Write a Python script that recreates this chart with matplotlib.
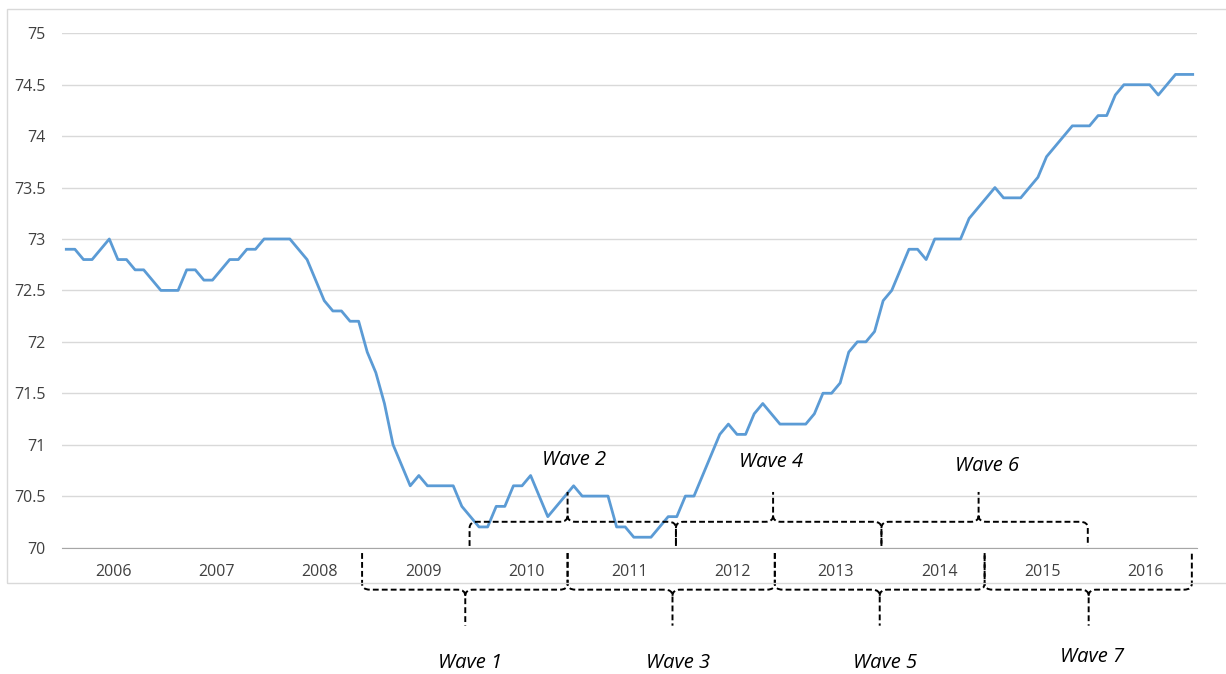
import matplotlib
matplotlib.use("Agg")
import matplotlib.pyplot as plt
from matplotlib.path import Path
from matplotlib.patches import PathPatch, Rectangle

# monthly values, Jan 2006 .. Dec 2016
values = [
    72.9, 72.9, 72.8, 72.8, 72.9, 73.0, 72.8, 72.8, 72.7, 72.7, 72.6, 72.5,  # 2006
    72.5, 72.5, 72.7, 72.7, 72.6, 72.6, 72.7, 72.8, 72.8, 72.9, 72.9, 73.0,  # 2007
    73.0, 73.0, 73.0, 72.9, 72.8, 72.6, 72.4, 72.3, 72.3, 72.2, 72.2, 71.9,  # 2008
    71.7, 71.4, 71.0, 70.8, 70.6, 70.7, 70.6, 70.6, 70.6, 70.6, 70.4, 70.3,  # 2009
    70.2, 70.2, 70.4, 70.4, 70.6, 70.6, 70.7, 70.5, 70.3, 70.4, 70.5, 70.6,  # 2010
    70.5, 70.5, 70.5, 70.5, 70.2, 70.2, 70.1, 70.1, 70.1, 70.2, 70.3, 70.3,  # 2011
    70.5, 70.5, 70.7, 70.9, 71.1, 71.2, 71.1, 71.1, 71.3, 71.4, 71.3, 71.2,  # 2012
    71.2, 71.2, 71.2, 71.3, 71.5, 71.5, 71.6, 71.9, 72.0, 72.0, 72.1, 72.4,  # 2013
    72.5, 72.7, 72.9, 72.9, 72.8, 73.0, 73.0, 73.0, 73.0, 73.2, 73.3, 73.4,  # 2014
    73.5, 73.4, 73.4, 73.4, 73.5, 73.6, 73.8, 73.9, 74.0, 74.1, 74.1, 74.1,  # 2015
    74.2, 74.2, 74.4, 74.5, 74.5, 74.5, 74.5, 74.4, 74.5, 74.6, 74.6, 74.6,  # 2016
]
years = [str(y) for y in range(2006, 2017)]
y_ticks = [70, 70.5, 71, 71.5, 72, 72.5, 73, 73.5, 74, 74.5, 75]
y_labels = ["70", "70.5", "71", "71.5", "72", "72.5", "73", "73.5", "74", "74.5", "75"]

# wave braces: (label, start month, end month, tip month, label x, label y)
waves_below = [("Wave 1", 34.4, 58.3, 46.4, 47.0, 68.876),
               ("Wave 3", 58.3, 82.4, 70.5, 71.1, 68.876),
               ("Wave 5", 82.4, 106.8, 94.6, 95.2, 68.876),
               ("Wave 7", 106.8, 130.9, 118.9, 119.3, 68.935)]
waves_above = [("Wave 2", 46.9, 70.9, 58.3, 59.0, 70.85),
               ("Wave 4", 70.9, 94.8, 82.2, 82.0, 70.83),
               ("Wave 6", 94.8, 118.8, 106.1, 107.1, 70.79)]

plt.rcParams['font.family'] = ['Open Sans', 'DejaVu Sans']

fig = plt.figure(figsize=(12.26, 6.74), dpi=100)
# chart area border (as in the spreadsheet chart)
fig.patches.append(Rectangle((7 / 1226, (674 - 583) / 674), 1.2, (583 - 9) / 674,
                             transform=fig.transFigure, fill=False,
                             edgecolor='#d9d9d9', lw=1))
ax = fig.add_axes([62 / 1226, (674 - 547.5) / 674, 1135 / 1226, 514.2 / 674])

x = list(range(len(values)))
ax.plot(x, values, color='#5B9BD5', lw=2, zorder=3)

ax.set_xlim(-0.5, len(values) - 0.5)
ax.set_ylim(70, 75)
ax.set_yticks(y_ticks)
ax.set_yticklabels(y_labels, fontsize=11.5, color='#404040')
ax.tick_params(axis='y', length=0, pad=12)
ax.set_xticks([])
ax.grid(axis='y', color='#d9d9d9', lw=1)
ax.set_axisbelow(True)
for s in ['top', 'right', 'left']:
    ax.spines[s].set_visible(False)
ax.spines['bottom'].set_color('#a6a6a6')
ax.spines['bottom'].set_zorder(4)

for i, yr in enumerate(years):
    ax.text(i * 12 + 5.5, 69.76, yr, ha='center', va='center',
            fontsize=11.5, color='#404040')


def brace(x0, x1, xm, y_end, y_bar, y_tip, rx=0.9, ry=0.06):
    s = 1 if y_tip > y_bar else -1
    verts = [(x0, y_end), (x0, y_bar - s * ry), (x0, y_bar), (x0 + rx, y_bar),
             (xm - rx, y_bar), (xm, y_bar), (xm, y_bar + s * ry), (xm, y_tip),
             (xm, y_bar + s * ry), (xm, y_bar), (xm + rx, y_bar),
             (x1 - rx, y_bar), (x1, y_bar), (x1, y_bar - s * ry), (x1, y_end)]
    codes = [Path.MOVETO, Path.LINETO, Path.CURVE3, Path.CURVE3,
             Path.LINETO, Path.CURVE3, Path.CURVE3, Path.LINETO,
             Path.MOVETO, Path.CURVE3, Path.CURVE3,
             Path.LINETO, Path.CURVE3, Path.CURVE3, Path.LINETO]
    p = PathPatch(Path(verts, codes), fill=False, edgecolor='black', lw=1.4,
                  linestyle=(0, (3, 1.6)), clip_on=False, zorder=5)
    ax.add_patch(p)


for label, a, b, m, tx, ty in waves_below:
    brace(a, b, m, 69.946, 69.59, 69.24)
    ax.text(tx, ty, label, ha='center', va='center', fontsize=14.5,
            style='italic', color='black', clip_on=False)

for label, a, b, m, tx, ty in waves_above:
    brace(a, b, m, 70.015, 70.25, 70.54)
    ax.text(tx, ty, label, ha='center', va='center', fontsize=14.5,
            style='italic', color='black', zorder=6)

fig.savefig('out.png', dpi=100)
